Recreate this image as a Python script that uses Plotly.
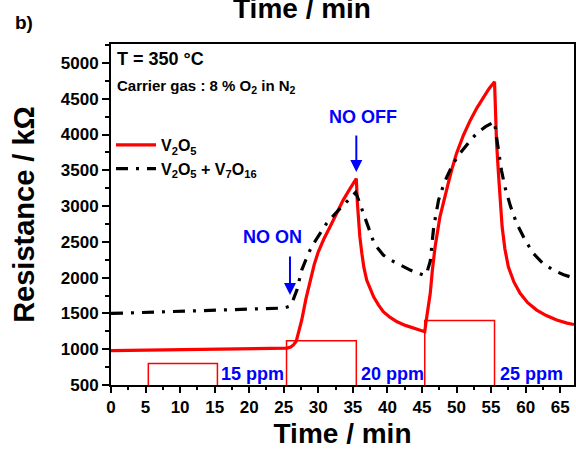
import plotly.graph_objects as go

# ---- data ----
red_t = [0, 5, 10, 15, 20, 25, 25.5, 26.0, 26.4, 26.8, 27.2, 27.6, 28.2, 28.8, 29.4, 30.0, 30.8, 31.7,
         32.6, 33.6, 34.5, 35.5, 35.65, 35.8, 36.0, 36.3, 36.6, 37.0, 37.5, 38.0, 38.7, 39.4, 40.4, 41.4,
         42.6, 43.8, 45.4, 45.6, 45.9, 46.2, 46.5, 46.9, 47.6, 48.2, 48.8, 49.4, 50.0, 51.0, 52.0, 53.0,
         53.9, 54.7, 55.5, 55.65, 55.8, 56.1, 56.6, 57.0, 57.5, 58.3, 59.2, 60.3, 61.6, 63.0, 64.5, 66.0, 67.0]
red_v = [980, 985, 992, 998, 1004, 1010, 1015, 1030, 1060, 1110, 1250, 1408, 1700, 1966, 2180, 2362, 2540, 2711,
         2900, 3084, 3230, 3385, 3050, 2804, 2580, 2339, 2140, 1966, 1840, 1733, 1620, 1524, 1445, 1384,
         1333, 1292, 1245, 1390, 1560, 1781, 2100, 2432, 2851, 3100, 3317, 3540, 3736, 3990, 4201, 4380,
         4527, 4640, 4736, 4300, 3876, 3409, 2711, 2400, 2152, 1940, 1781, 1650, 1547, 1470, 1408, 1365, 1345]

blk_t = [0, 5, 10, 15, 20, 25, 25.9, 26.4, 26.9, 27.6, 28.2, 28.8, 29.4, 30.0, 31.2, 32.4, 33.6, 34.5, 35.4,
         35.7, 36.0, 36.4, 36.8, 37.4, 38.0, 38.7, 39.4, 40.4, 41.4, 42.4, 43.3, 44.4, 45.4, 45.8, 46.2, 46.7,
         47.4, 48.0, 48.6, 49.5, 50.5, 51.7, 52.9, 54.2, 55.5, 55.8, 56.1, 56.5, 57.0, 57.8, 58.7, 59.9, 61.1,
         62.5, 64.0, 65.5, 67.0]
blk_v = [1500, 1515, 1530, 1545, 1560, 1575, 1603, 1700, 1827, 2106, 2250, 2385, 2490, 2580, 2758, 2890, 3014, 3100, 3190,
         3120, 3038, 2920, 2804, 2650, 2501, 2400, 2316, 2250, 2200, 2150, 2106, 2065, 2030, 2100, 2230, 2711,
         3084, 3260, 3409, 3590, 3736, 3880, 4015, 4110, 4180, 3960, 3736, 3500, 3270, 3000, 2758, 2530, 2339,
         2200, 2106, 2040, 1995]

# gas pulses (NO concentration steps), one rectangle outline per pulse
gas_t = [5.4, 5.4, 15.4, 15.4, None, 25.4, 25.4, 35.5, 35.5, None, 45.4, 45.4, 55.5, 55.5]
gas_v = [500, 800, 800, 500, None, 500, 1120, 1120, 500, None, 500, 1400, 1400, 500]

ppm_labels = ["15 ppm", "20 ppm", "25 ppm"]
ppm_x = [15.6, 35.9, 56.0]

FONT = "Liberation Sans, Arial, sans-serif"
BLUE = "#0000ff"

fig = go.Figure()
fig.add_trace(go.Scatter(x=gas_t, y=gas_v, mode="lines", line=dict(color="red", width=1.5),
                         showlegend=False, hoverinfo="skip", connectgaps=False))
fig.add_trace(go.Scatter(x=red_t, y=red_v, mode="lines", line=dict(color="red", width=3.2),
                         name="V<sub>2</sub>O<sub>5</sub>"))
fig.add_trace(go.Scatter(x=blk_t, y=blk_v, mode="lines",
                         line=dict(color="black", width=3.2, dash="12px,8px,3px,8px"),
                         name="V<sub>2</sub>O<sub>5</sub> + V<sub>7</sub>O<sub>16</sub>"))

annos = []
for lab, x in zip(ppm_labels, ppm_x):
    annos.append(dict(x=x, y=654, xref="x", yref="y", text=f"<b>{lab}</b>", showarrow=False,
                      xanchor="left", yanchor="middle", font=dict(size=18, color=BLUE, family=FONT)))
annos += [
    dict(x=36.5, y=4251, xref="x", yref="y", text="<b>NO OFF</b>", showarrow=False,
         xanchor="center", yanchor="middle", font=dict(size=18, color=BLUE, family=FONT)),
    dict(x=23.3, y=2567, xref="x", yref="y", text="<b>NO ON</b>", showarrow=False,
         xanchor="center", yanchor="middle", font=dict(size=18, color=BLUE, family=FONT)),
    dict(x=35.5, y=3475, xref="x", yref="y", ax=0, ay=-38, text="", showarrow=True,
         arrowhead=2, arrowsize=1.2, arrowwidth=2, arrowcolor=BLUE),
    dict(x=25.9, y=1757, xref="x", yref="y", ax=0, ay=-40, text="", showarrow=True,
         arrowhead=2, arrowsize=1.2, arrowwidth=2, arrowcolor=BLUE),
    dict(x=0.008, y=1 - (59.5 - 44) / 341, xref="paper", yref="paper", text="<b>T = 350 °C</b>",
         showarrow=False, xanchor="left", yanchor="middle", font=dict(size=18, color="black", family=FONT)),
    dict(x=0.008, y=1 - (86 - 44) / 341, xref="paper", yref="paper",
         text="<b>Carrier gas : 8 % O<sub>2</sub> in N<sub>2</sub></b>",
         showarrow=False, xanchor="left", yanchor="middle", font=dict(size=15, color="black", family=FONT)),
    dict(x=(302 - 111) / 463, y=1 + (44 - 26) / 341, xref="paper", yref="paper", text="<b>Time / min</b>",
         showarrow=False, xanchor="center", yanchor="bottom", font=dict(size=28, color="black", family=FONT)),
    dict(x=(24 - 111) / 463, y=1 + (44 - 22) / 341, xref="paper", yref="paper", text="<b>b)</b>",
         showarrow=False, xanchor="center", yanchor="middle", font=dict(size=19, color="black", family=FONT)),
]

fig.update_layout(
    width=576, height=449,
    margin=dict(l=111, r=2, t=44, b=64),
    paper_bgcolor="white", plot_bgcolor="white",
    font=dict(family=FONT, color="black"),
    annotations=annos,
    legend=dict(x=0.0, y=1 - (128 - 44) / 341, xanchor="left", yanchor="top",
                bgcolor="rgba(0,0,0,0)", font=dict(size=16, family=FONT, color="black", weight="bold"),
                itemwidth=40, tracegroupgap=0),
    showlegend=True,
)
fig.update_xaxes(range=[0, 67], tickmode="linear", tick0=0, dtick=5, automargin=False,
                 showline=True, linecolor="black", linewidth=2, mirror=True,
                 ticks="outside", ticklen=6, tickwidth=2, tickcolor="black",
                 minor=dict(dtick=2.5, ticks="outside", ticklen=3, tickwidth=2, tickcolor="black"),
                 showgrid=False, zeroline=False,
                 tickfont=dict(size=17, family=FONT, color="black", weight="bold"),
                 title=dict(text="<b>Time / min</b>", font=dict(size=28, family=FONT, color="black"), standoff=15))
fig.update_yaxes(range=[500, 5265], tickmode="linear", tick0=500, dtick=500, automargin=False,
                 showline=True, linecolor="black", linewidth=2, mirror=True,
                 ticks="outside", ticklen=7, tickwidth=2, tickcolor="black",
                 minor=dict(dtick=250, ticks="outside", ticklen=4, tickwidth=2, tickcolor="black"),
                 showgrid=False, zeroline=False,
                 tickfont=dict(size=17, family=FONT, color="black", weight="bold"),
                 title=dict(text="<b>Resistance / kΩ</b>", font=dict(size=29, family=FONT, color="black"), standoff=18))

fig.write_html("out.html")
